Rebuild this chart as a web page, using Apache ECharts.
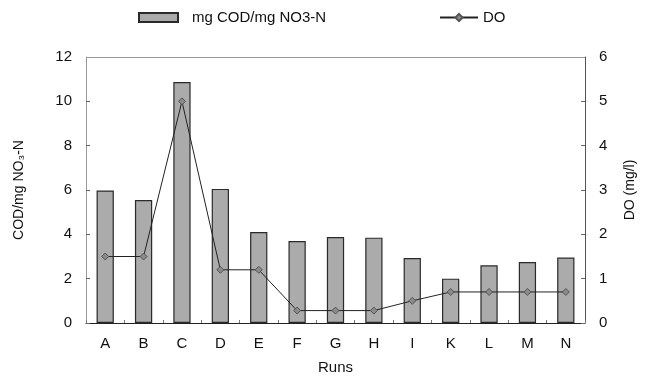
<!DOCTYPE html>
<html><head><meta charset="utf-8">
<script src="https://cdn.jsdelivr.net/npm/echarts@6/dist/echarts.min.js"></script>
<style>html,body{margin:0;padding:0;background:#fff}#c{width:650px;height:382px}</style>
</head><body><div id="c"></div>
<script>
const categories = ['A','B','C','D','E','F','G','H','I','K','L','M','N'];
const codValues = [5.98, 5.55, 10.87, 6.05, 4.1, 3.7, 3.88, 3.85, 2.93, 2.0, 2.6, 2.75, 2.95];
const doValues = [1.5, 1.5, 5.0, 1.2, 1.2, 0.28, 0.28, 0.28, 0.5, 0.7, 0.7, 0.7, 0.7];
const leftTicks = [0, 2, 4, 6, 8, 10, 12];
const rightTicks = [0, 1, 2, 3, 4, 5, 6];

const font = 'Liberation Sans, Arial, sans-serif';
const chart = echarts.init(document.getElementById('c'));
chart.setOption({
  animation: false,
  textStyle: {fontFamily: font},
  legend: [
    {
      top: 5, left: 133, itemWidth: 39, itemHeight: 9,
      textStyle: {fontFamily: font, fontSize: 15, color: '#111', padding: [0, 0, 0, 9]},
      data: [{name: 'mg COD/mg NO3-N', icon: 'rect'}]
    },
    {
      top: 5, left: 434, itemWidth: 38, itemHeight: 9, itemGap: 2,
      textStyle: {fontFamily: font, fontSize: 15, color: '#111'},
      data: [{name: 'DO'}]
    }
  ],
  grid: {left: 86, right: 65, top: 57, bottom: 59},
  xAxis: {
    type: 'category', data: categories,
    name: 'Runs', nameLocation: 'middle', nameGap: 37,
    nameTextStyle: {fontFamily: font, fontSize: 15, color: '#111'},
    axisLine: {lineStyle: {color: '#222', width: 1}},
    axisTick: {show: true, inside: true, length: 3, lineStyle: {color: '#777'}},
    axisLabel: {fontFamily: font, fontSize: 15, color: '#111', margin: 13},
    splitLine: {show: false}
  },
  yAxis: [
    {
      type: 'value', min: leftTicks[0], max: leftTicks[leftTicks.length-1], interval: 2,
      name: 'COD/mg NO₃-N', nameLocation: 'middle', nameGap: 60, nameRotate: 90,
      nameTextStyle: {fontFamily: font, fontSize: 14, color: '#111'},
      axisLine: {show: true, lineStyle: {color: '#999', width: 1}},
      axisTick: {show: true, inside: true, length: 4, lineStyle: {color: '#666'}},
      axisLabel: {fontFamily: font, fontSize: 15, color: '#111', margin: 14},
      splitLine: {show: false}
    },
    {
      type: 'value', min: rightTicks[0], max: rightTicks[rightTicks.length-1], interval: 1,
      name: 'DO (mg/l)', nameLocation: 'middle', nameGap: 38, nameRotate: 90,
      nameTextStyle: {fontFamily: font, fontSize: 14, color: '#111'},
      axisLine: {show: true, lineStyle: {color: '#555', width: 1}},
      axisTick: {show: true, inside: true, length: 4, lineStyle: {color: '#666'}},
      axisLabel: {fontFamily: font, fontSize: 15, color: '#111', margin: 14},
      splitLine: {show: false}
    }
  ],
  series: [
    {
      name: 'mg COD/mg NO3-N', type: 'bar', data: codValues, yAxisIndex: 0,
      barWidth: '45%',
      itemStyle: {color: '#ababab', borderColor: '#2a2a2a', borderWidth: 1.2},
      markLine: {
        silent: true, symbol: 'none', label: {show: false},
        lineStyle: {color: '#999', type: 'solid', width: 1},
        data: [{yAxis: 12}]
      }
    },
    {
      name: 'DO', type: 'line', data: doValues, yAxisIndex: 1,
      symbol: 'diamond', symbolSize: 7,
      lineStyle: {color: '#222', width: 1},
      itemStyle: {color: '#8a8a8a', borderColor: '#555', borderWidth: 1}
    }
  ]
});
</script></body></html>
